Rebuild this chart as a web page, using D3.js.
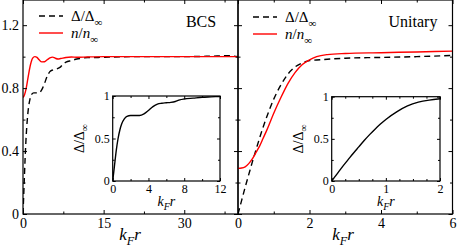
<!DOCTYPE html>
<html>
<head>
<meta charset="utf-8">
<script src="https://cdn.jsdelivr.net/npm/d3@7"></script>
<style>
  html, body { margin: 0; padding: 0; background: #fff; }
  svg { display: block; }
  svg text { font-family: "Liberation Serif", "DejaVu Serif", "Times New Roman", serif !important; fill: #000; }
</style>
</head>
<body>
<div id="chart"></div>
<script>
// BCS panel: gap (dashed) and density (red)
const bcsGapK = [0, 0.2, 0.4, 0.6, 0.8, 1.0, 1.3, 1.6, 2.0, 2.5, 3.0, 3.5, 4.0, 4.5, 5.0, 5.5, 6.0, 6.5, 7.0, 7.5, 8.0, 9.0, 10, 11, 12, 14, 16, 20, 25, 30, 35, 38, 40];
const bcsGapV = [0, 0.18, 0.36, 0.5, 0.6, 0.67, 0.73, 0.76, 0.77, 0.77, 0.77, 0.79, 0.83, 0.875, 0.905, 0.915, 0.92, 0.925, 0.935, 0.955, 0.965, 0.975, 0.985, 0.99, 0.995, 0.995, 0.997, 1.0, 1.0, 1.0, 1.003, 1.006, 1.0];
const bcsDensK = [0, 0.3, 0.6, 1.0, 1.4, 1.8, 2.2, 2.6, 3.0, 3.5, 4.0, 4.5, 5.0, 5.5, 6.0, 6.5, 7.0, 8.0, 9.0, 10, 12, 15, 20, 30, 40];
const bcsDensV = [0.74, 0.76, 0.8, 0.88, 0.95, 0.99, 1.0, 0.995, 0.98, 0.967, 0.968, 0.98, 0.992, 0.997, 0.99, 0.985, 0.988, 0.995, 0.998, 0.996, 0.998, 1.0, 1.0, 1.0, 1.0];

// Unitary panel
const uniGapK = [0, 0.1, 0.2, 0.3, 0.4, 0.5, 0.6, 0.7, 0.8, 0.9, 1.0, 1.2, 1.4, 1.6, 1.8, 2.0, 2.3, 2.6, 3.0, 4.0, 5.0, 6.0];
const uniGapV = [0, 0.085, 0.17, 0.25, 0.33, 0.405, 0.48, 0.55, 0.615, 0.675, 0.73, 0.82, 0.89, 0.935, 0.96, 0.975, 0.98, 0.985, 0.99, 0.995, 1.0, 1.008];
const uniDensK = [0, 0.1, 0.2, 0.3, 0.4, 0.5, 0.6, 0.7, 0.8, 0.9, 1.0, 1.2, 1.4, 1.6, 1.8, 2.0, 2.2, 2.5, 3.0, 4.0, 5.0, 6.0];
const uniDensV = [0.29, 0.292, 0.3, 0.32, 0.35, 0.39, 0.43, 0.48, 0.53, 0.585, 0.64, 0.74, 0.83, 0.9, 0.95, 0.98, 1.0, 1.013, 1.02, 1.025, 1.03, 1.035];

const yMajor = [0, 0.4, 0.8, 1.2];
const yMinor = [0.2, 0.6, 1.0];
const bcsXMajor = [0, 15, 30];
const bcsXMinor = [7.5, 22.5, 37.5];
const uniXMajor = [0, 2, 4, 6];
const uniXMinor = [1, 3, 5];
const insetYMajor = [0, 0.5, 1];
const insetYMinor = [0.25, 0.75];
const bcsInsetXMajor = [0, 4, 8, 12];
const bcsInsetXMinor = [2, 6, 10];
const uniInsetXMajor = [0, 1, 2];
const uniInsetXMinor = [0.25, 0.5, 0.75, 1.25, 1.5, 1.75];

const width = 457, height = 247;
const svg = d3.select('#chart').append('svg').attr('width', width).attr('height', height);

const y = d3.scaleLinear().domain([0, 1.36]).range([214, 0]);
const xL = d3.scaleLinear().domain([0, 40]).range([23, 238]);
const xR = d3.scaleLinear().domain([0, 6]).range([238, 452.5]);

const zip = (ks, vs) => ks.map((k, i) => [k, vs[i]]);

function frameAxes(g, x, yy, opts) {
  const [x0, x1] = x.range();
  const [y0, y1] = yy.range();
  const tick = opts.tick, minor = opts.minor;

  // bottom
  g.append('g').attr('transform', `translate(0,${y0})`)
    .call(d3.axisBottom(x).tickValues(opts.xMajor).tickSize(-tick).tickPadding(opts.pad).tickFormat(opts.xLabels ? (d => d) : ''))
    .call(s => s.select('.domain').remove())
    .call(s => s.selectAll('text').attr('font-size', opts.fs));
  g.append('g').attr('transform', `translate(0,${y0})`)
    .call(d3.axisBottom(x).tickValues(opts.xMinor).tickSize(-minor).tickFormat(''))
    .call(s => s.select('.domain').remove());
  // top
  g.append('g').attr('transform', `translate(0,${y1})`)
    .call(d3.axisTop(x).tickValues(opts.xMajor).tickSize(-tick).tickFormat(''))
    .call(s => s.select('.domain').remove());
  g.append('g').attr('transform', `translate(0,${y1})`)
    .call(d3.axisTop(x).tickValues(opts.xMinor).tickSize(-minor).tickFormat(''))
    .call(s => s.select('.domain').remove());
  // left
  g.append('g').attr('transform', `translate(${x0},0)`)
    .call(d3.axisLeft(yy).tickValues(opts.yMajor).tickSize(-tick).tickPadding(opts.pad).tickFormat(opts.yLabels ? opts.yfmt : ''))
    .call(s => s.select('.domain').remove())
    .call(s => s.selectAll('text').attr('font-size', opts.fs));
  g.append('g').attr('transform', `translate(${x0},0)`)
    .call(d3.axisLeft(yy).tickValues(opts.yMinor).tickSize(-minor).tickFormat(''))
    .call(s => s.select('.domain').remove());
  // right
  g.append('g').attr('transform', `translate(${x1},0)`)
    .call(d3.axisRight(yy).tickValues(opts.yMajor).tickSize(-tick).tickFormat(''))
    .call(s => s.select('.domain').remove());
  g.append('g').attr('transform', `translate(${x1},0)`)
    .call(d3.axisRight(yy).tickValues(opts.yMinor).tickSize(-minor).tickFormat(''))
    .call(s => s.select('.domain').remove());

  g.selectAll('.tick line').attr('stroke', '#000').attr('stroke-width', 1);
  g.append('rect').attr('x', x0).attr('y', y1).attr('width', x1 - x0).attr('height', y0 - y1)
    .attr('fill', 'none').attr('stroke', '#000').attr('stroke-width', 1.2);
}

function curve(g, x, yy, data, color, dash, clipId) {
  g.append('path')
    .datum(data)
    .attr('clip-path', `url(#${clipId})`)
    .attr('fill', 'none')
    .attr('stroke', color)
    .attr('stroke-width', 1.4)
    .attr('stroke-dasharray', dash)
    .attr('d', d3.line().x(d => x(d[0])).y(d => yy(d[1])).curve(d3.curveMonotoneX));
}

function clip(id, x, yy) {
  svg.append('clipPath').attr('id', id).append('rect')
    .attr('x', x.range()[0]).attr('y', yy.range()[1])
    .attr('width', x.range()[1] - x.range()[0]).attr('height', yy.range()[0] - yy.range()[1]);
}

function kfr(g, cx, cy, fs) {
  const t = g.append('text').attr('x', cx).attr('y', cy).attr('text-anchor', 'middle')
    .attr('font-size', fs).attr('font-style', 'italic');
  t.append('tspan').text('k');
  t.append('tspan').attr('font-size', fs * 0.72).attr('dy', fs * 0.3).text('F');
  t.append('tspan').attr('dy', -fs * 0.3).text('r');
}

function ratio(g, x, yb, fs, sym, italic) {
  const t = g.append('text').attr('x', x).attr('y', yb).attr('font-size', fs);
  const st = italic ? 'italic' : 'normal';
  t.append('tspan').attr('font-style', st).text(sym);
  t.append('tspan').text('/');
  t.append('tspan').attr('font-style', st).text(sym);
  t.append('tspan').attr('font-size', fs * 0.72).attr('dy', fs * 0.3).text('\u221e');
  return t;
}

function legend(g, x, yTop) {
  g.append('line').attr('x1', x).attr('x2', x + 24).attr('y1', yTop).attr('y2', yTop)
    .attr('stroke', '#000').attr('stroke-width', 1.4).attr('stroke-dasharray', '6,4');
  ratio(g, x + 32, yTop + 5, 15, '\u0394', false);
  g.append('line').attr('x1', x).attr('x2', x + 24).attr('y1', yTop + 17).attr('y2', yTop + 17)
    .attr('stroke', '#ff0000').attr('stroke-width', 1.4);
  ratio(g, x + 32, yTop + 22, 15, 'n', true);
}

const mainOpts = { tick: 4, minor: 2.5, pad: 4, fs: 14, yMajor, yMinor, yfmt: d => d === 0 ? '0' : d3.format('.1f')(d) };

// left panel
const gL = svg.append('g');
clip('clipL', xL, y);
curve(gL, xL, y, zip(bcsGapK, bcsGapV), '#000', '6,4', 'clipL');
curve(gL, xL, y, zip(bcsDensK, bcsDensV), '#ff0000', null, 'clipL');
frameAxes(gL, xL, y, Object.assign({}, mainOpts, { xMajor: bcsXMajor, xMinor: bcsXMinor, xLabels: true, yLabels: true }));
legend(gL, 39, 16);
gL.append('text').attr('x', 201).attr('y', 27).attr('text-anchor', 'middle').attr('font-size', 16).text('BCS');
kfr(gL, 130, 240, 17);

// right panel
const gR = svg.append('g');
clip('clipR', xR, y);
curve(gR, xR, y, zip(uniGapK, uniGapV), '#000', '6,4', 'clipR');
curve(gR, xR, y, zip(uniDensK, uniDensV), '#ff0000', null, 'clipR');
frameAxes(gR, xR, y, Object.assign({}, mainOpts, { xMajor: uniXMajor, xMinor: uniXMinor, xLabels: true, yLabels: false }));
legend(gR, 253, 17);
gR.append('text').attr('x', 413).attr('y', 27).attr('text-anchor', 'middle').attr('font-size', 16).text('Unitary');
kfr(gR, 343, 240, 17);

// insets
const insetOpts = { tick: 3, minor: 2, pad: 3, fs: 12, yMajor: insetYMajor, yMinor: insetYMinor, yfmt: d => d === 0.5 ? '0.5' : d3.format('d')(d), xLabels: true, yLabels: true };

function inset(id, x, yy, data, xMajor, xMinor, labelX) {
  const g = svg.append('g');
  g.append('rect').attr('x', x.range()[0]).attr('y', yy.range()[1])
    .attr('width', x.range()[1] - x.range()[0]).attr('height', yy.range()[0] - yy.range()[1]).attr('fill', '#fff');
  clip(id, x, yy);
  curve(g, x, yy, data, '#000', null, id);
  frameAxes(g, x, yy, Object.assign({}, insetOpts, { xMajor, xMinor }));
  const cx = (x.range()[0] + x.range()[1]) / 2;
  kfr(g, cx, 206, 14);
  const cy = (yy.range()[0] + yy.range()[1]) / 2;
  ratio(g, 0, 0, 14, '\u0394', false).attr('text-anchor', 'middle')
    .attr('transform', `translate(${labelX},${cy}) rotate(-90)`);
}

const xIL = d3.scaleLinear().domain([0, 12]).range([112.7, 220]);
const yIL = d3.scaleLinear().domain([0, 1]).range([181, 96]);
inset('clipIL', xIL, yIL, zip(bcsGapK, bcsGapV).filter(d => d[0] <= 12), bcsInsetXMajor, bcsInsetXMinor, 84);

const xIR = d3.scaleLinear().domain([0, 2]).range([331.7, 440]);
const yIR = d3.scaleLinear().domain([0, 1]).range([181, 96.7]);
inset('clipIR', xIR, yIR, zip(uniGapK, uniGapV).filter(d => d[0] <= 2), uniInsetXMajor, uniInsetXMinor, 303);
</script>
</body>
</html>
